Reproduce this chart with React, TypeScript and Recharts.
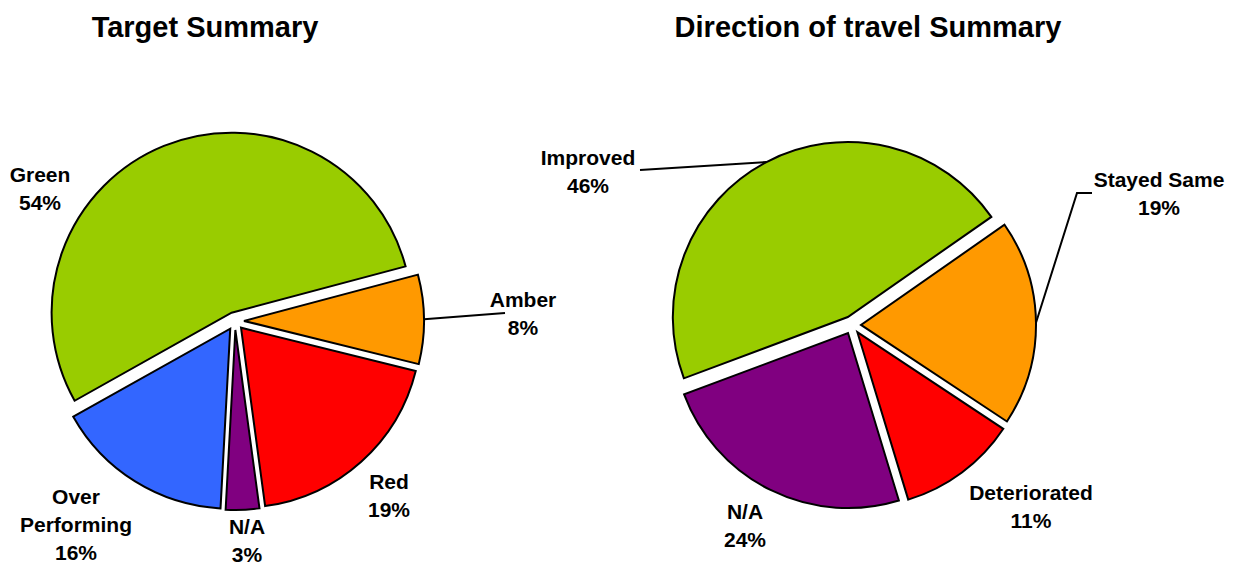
import React from 'react';
import { PieChart, Pie, Cell, Sector } from 'recharts';

// Target Summary
const targetNames = ['Green', 'Amber', 'Red', 'N/A', 'Over Performing'];
const targetValues = [54, 8, 19, 3, 16];
const targetColors = ['#99CC00', '#FF9900', '#FF0000', '#800080', '#3366FF'];

// Direction of travel Summary
const travelNames = ['Improved', 'Stayed Same', 'Deteriorated', 'N/A'];
const travelValues = [46, 19, 11, 24];
const travelColors = ['#99CC00', '#FF9900', '#FF0000', '#800080'];

// label block centres, relative to pie centre
const targetLabelPos = [[-195, -132], [288, -7], [154, 175], [12, 220], [-159, 204]];
const targetWrap = [false, false, false, false, true];
const targetLeaders: (number[][] | null)[] = [null, [[270, -8]], null, null, null];

const travelLabelPos = [[-264, -153], [307, -131], [179, 182], [-107, 201]];
const travelWrap = [false, false, false, false];
const travelLeaders: (number[][] | null)[] = [[[-212, -155]], [[225, -132], [240, -132]], null, null];

const RAD = Math.PI / 180;
const EXPLODE = 9;
const FONT = '"Liberation Sans", Arial, sans-serif';

const shift = (midAngle: number) => ({
  x: EXPLODE * Math.cos(-midAngle * RAD),
  y: EXPLODE * Math.sin(-midAngle * RAD),
});

// every slice pulled out a little along its mid angle
const ExplodedSector = (props: any) => {
  const { cx, cy, midAngle } = props;
  const s = shift(midAngle);
  return <Sector {...props} cx={cx + s.x} cy={cy + s.y} />;
};

const makeLabel = (pos: number[][], wrap: boolean[], leaders: (number[][] | null)[]) => (props: any) => {
  const { cx, cy, midAngle, outerRadius, index, name, percent } = props;
  const [dx, dy] = pos[index];
  const pct = `${Math.round(percent * 100)}%`;
  const lines = wrap[index] ? [...String(name).split(' '), pct] : [name, pct];
  const lh = 28;
  const top = cy + dy - ((lines.length - 1) * lh) / 2 + 7;
  const lead = leaders[index];
  let path = null;
  if (lead) {
    const s = shift(midAngle);
    const sx = cx + s.x + outerRadius * Math.cos(-midAngle * RAD);
    const sy = cy + s.y + outerRadius * Math.sin(-midAngle * RAD);
    const pts = [[sx, sy], ...lead.map(([px, py]) => [cx + px, cy + py])];
    path = (
      <polyline
        points={pts.map((p) => p.join(',')).join(' ')}
        fill="none"
        stroke="#000"
        strokeWidth={2}
      />
    );
  }
  return (
    <g>
      {path}
      {lines.map((t, i) => (
        <text
          key={i}
          x={cx + dx}
          y={top + i * lh}
          textAnchor="middle"
          fill="#000"
          fontFamily={FONT}
          fontWeight="bold"
          fontSize={21}
        >
          {t}
        </text>
      ))}
    </g>
  );
};

const targetData = targetNames.map((name, i) => ({ name, value: targetValues[i] }));
const travelData = travelNames.map((name, i) => ({ name, value: travelValues[i] }));

const titleStyle: React.CSSProperties = {
  position: 'absolute',
  top: 13,
  width: 600,
  textAlign: 'center',
  fontFamily: FONT,
  fontWeight: 'bold',
  fontSize: 29,
  lineHeight: '29px',
  color: '#000',
};

export default function App() {
  return (
    <div style={{ position: 'relative', width: 1238, height: 566, background: '#fff', overflow: 'hidden' }}>
      <style>{'body{margin:0}'}</style>
      <div style={{ ...titleStyle, left: 205 - 300 }}>Target Summary</div>
      <div style={{ ...titleStyle, left: 868 - 300 }}>Direction of travel Summary</div>
      <PieChart width={1238} height={566} margin={{ top: 0, right: 0, bottom: 0, left: 0 }}>
        <Pie
          data={targetData}
          dataKey="value"
          nameKey="name"
          cx={235}
          cy={321}
          outerRadius={180}
          startAngle={209.3}
          endAngle={-150.7}
          stroke="#000"
          strokeWidth={2}
          shape={ExplodedSector}
          label={makeLabel(targetLabelPos, targetWrap, targetLeaders)}
          labelLine={false}
          isAnimationActive={false}
        >
          {targetData.map((d, i) => (
            <Cell key={d.name} fill={targetColors[i]} />
          ))}
        </Pie>
        <Pie
          data={travelData}
          dataKey="value"
          nameKey="name"
          cx={852}
          cy={325}
          outerRadius={175}
          startAngle={200.5}
          endAngle={-159.5}
          stroke="#000"
          strokeWidth={2}
          shape={ExplodedSector}
          label={makeLabel(travelLabelPos, travelWrap, travelLeaders)}
          labelLine={false}
          isAnimationActive={false}
        >
          {travelData.map((d, i) => (
            <Cell key={d.name} fill={travelColors[i]} />
          ))}
        </Pie>
      </PieChart>
    </div>
  );
}
